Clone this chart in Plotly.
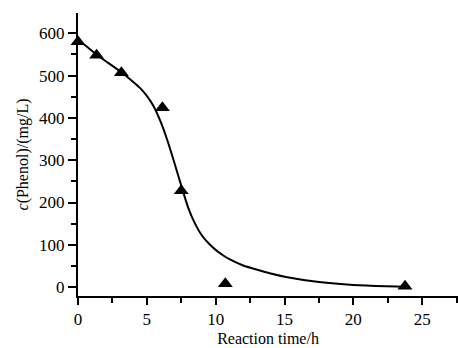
import plotly.graph_objects as go

# measured points
time_pts = [0, 1.35, 3.15, 6.13, 7.5, 10.7, 23.75]
phenol_pts = [580, 548, 507, 424, 228, 8, 2]

# fitted curve
curve_t = [0, 0.7, 1.34, 2.2, 3.1, 3.8, 4.5, 5.0, 5.5, 6.0, 6.5, 7.0, 7.5, 8.0, 8.5,
           9.0, 9.5, 10.0, 10.5, 11.0, 12.0, 12.7, 14.0, 15.1, 17.5, 20.0, 22.4, 23.8]
curve_v = [584, 567, 550, 530, 509, 491, 471, 452, 427, 391, 346, 294, 240, 188, 150,
           122, 103, 88, 76, 66, 51, 44, 32, 24, 12, 5, 2, 1]

x_ticks = [0, 5, 10, 15, 20, 25]
y_ticks = [0, 100, 200, 300, 400, 500, 600]

FONT = "Liberation Serif"

fig = go.Figure()
fig.add_trace(go.Scatter(x=curve_t, y=curve_v, mode="lines",
                         line=dict(color="black", width=2, shape="spline", smoothing=0.6),
                         showlegend=False, hoverinfo="skip"))
fig.add_trace(go.Scatter(x=time_pts, y=phenol_pts, mode="markers",
                         marker=dict(symbol="triangle-up", size=13, color="black"),
                         showlegend=False, cliponaxis=False))

fig.update_layout(
    width=458, height=348,
    margin=dict(l=78, r=0, t=13, b=52),
    paper_bgcolor="white", plot_bgcolor="white",
    font=dict(family=FONT, size=16, color="black"),
    xaxis=dict(range=[0, 27.6], tickvals=x_ticks, ticks="outside", ticklen=7, tickwidth=1.5,
               tickcolor="black", showline=True, linecolor="black", linewidth=2,
               showgrid=False, zeroline=False,
               minor=dict(tickvals=[2.5, 7.5, 12.5, 17.5, 22.5, 27.5], ticks="outside",
                          ticklen=5, tickwidth=1.5, tickcolor="black", showgrid=False),
               title=dict(text="Reaction time/h", font=dict(size=16), standoff=4),
               tickfont=dict(size=17)),
    yaxis=dict(range=[-21, 648], tickvals=y_ticks, ticks="outside", ticklen=8, tickwidth=1.5,
               tickcolor="black", showline=True, linecolor="black", linewidth=2,
               showgrid=False, zeroline=False,
               minor=dict(tickvals=[50, 150, 250, 350, 450, 550, 650], ticks="outside",
                          ticklen=5, tickwidth=1.5, tickcolor="black", showgrid=False),
               title=dict(text="<i>c</i>(Phenol)/(mg/L)", font=dict(size=16), standoff=6),
               tickfont=dict(size=17)),
)

fig.write_html("out.html")
